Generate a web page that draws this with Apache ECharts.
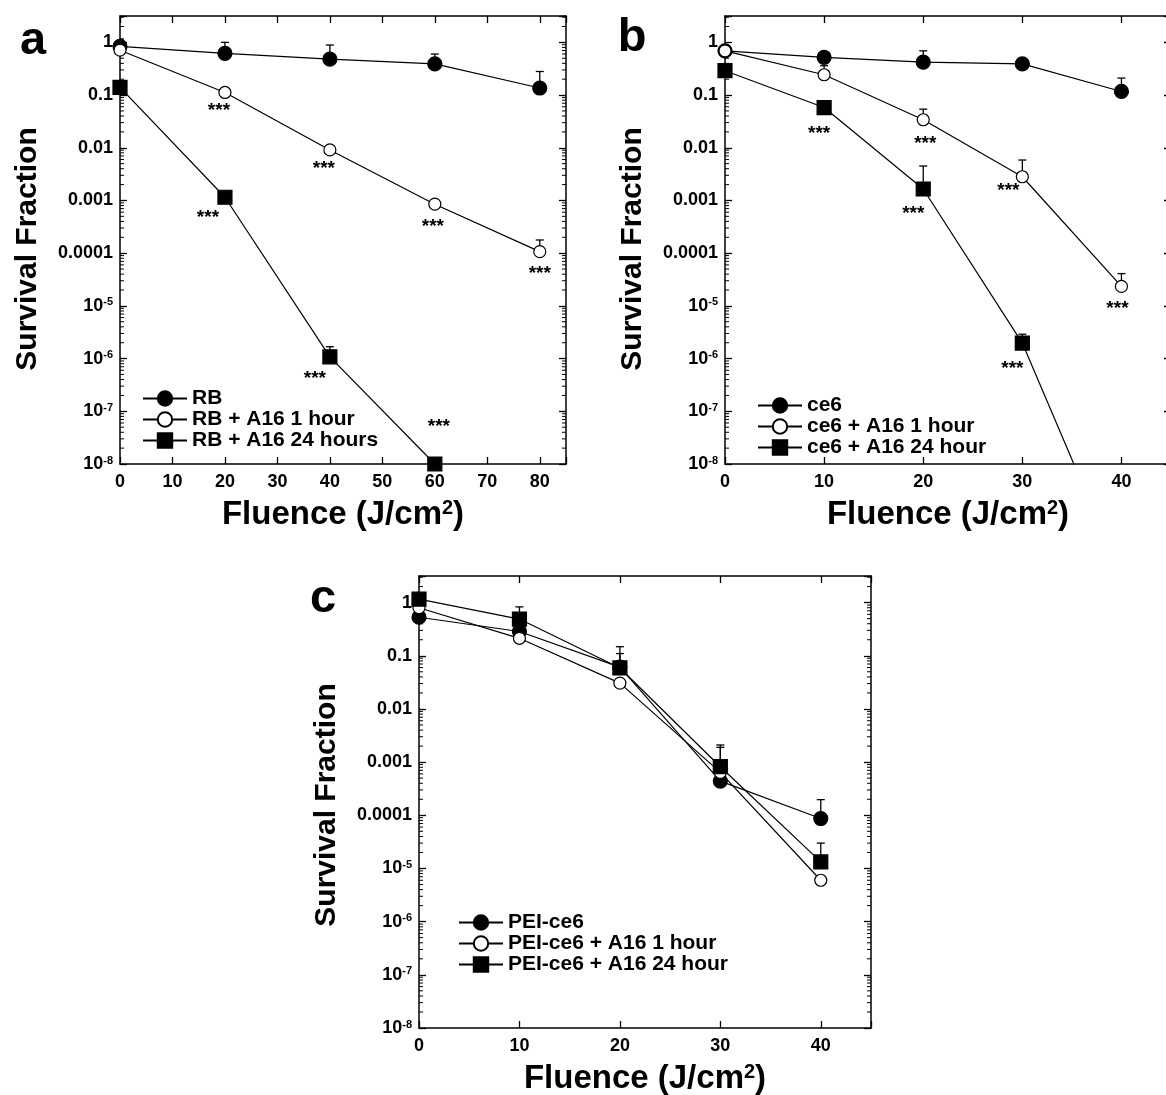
<!DOCTYPE html>
<html>
<head>
<meta charset="utf-8">
<script src="https://cdn.jsdelivr.net/npm/echarts@6/dist/echarts.min.js"></script>
<style>
html,body{margin:0;padding:0;background:#ffffff;}
#c{width:1166px;height:1095px;}
</style>
</head>
<body>
<div id="c"></div>
<script>
// ---------------- DATA ----------------
// Panel a (RB)
var fluenceA = [0, 20, 40, 60, 80];
var namesA = ['RB', 'RB + A16 1 hour', 'RB + A16 24 hours'];
var rbMean = [0.84, 0.62, 0.48, 0.39, 0.136];
var rbUpper = [1.16, 1.0, 0.89, 0.6, 0.28];
var rb1hMean = [0.71, 0.112, 0.0091, 0.00085, 0.000107];
var rb1hUpper = [null, 0.13, null, null, 0.000178];
var rb24hMean = [0.14, 0.00115, 1.08e-6, 1e-8, null];
var rb24hUpper = [null, null, 1.68e-6, null, null];
var rbSig = ['', '', '', '', ''];
var rb1hSig = ['', '***', '***', '***', '***'];
var rb24hSig = ['', '***', '***', '***', ''];

// Panel b (ce6)
var fluenceB = [0, 10, 20, 30, 40];
var namesB = ['ce6', 'ce6 + A16 1 hour', 'ce6 + A16 24 hour'];
var ce6Mean = [0.69, 0.52, 0.42, 0.39, 0.117];
var ce6Upper = [null, null, 0.69, null, 0.21];
var ce61hMean = [0.69, 0.243, 0.034, 0.00282, 2.34e-5];
var ce61hUpper = [null, 0.36, 0.054, 0.00585, 4.1e-5];
var ce624hMean = [0.29, 0.058, 0.00165, 1.97e-6, 7.6e-11];
var ce624hUpper = [null, null, 0.0045, 2.9e-6, null];
var ce6Sig = ['', '', '', '', ''];
var ce61hSig = ['', '', '***', '***', '***'];
var ce624hSig = ['', '***', '***', '***', ''];

// Panel c (PEI-ce6)
var fluenceC = [0, 10, 20, 30, 40];
var namesC = ['PEI-ce6', 'PEI-ce6 + A16 1 hour', 'PEI-ce6 + A16 24 hour'];
var peiMean = [0.53, 0.286, 0.061, 0.00044, 8.7e-5];
var peiUpper = [null, null, 0.11, null, 0.000197];
var pei1hMean = [0.8, 0.213, 0.0306, 0.00064, 6.0e-6];
var pei1hUpper = [null, null, null, 0.0019, null];
var pei24hMean = [1.16, 0.49, 0.059, 0.00082, 1.33e-5];
var pei24hUpper = [null, 0.83, 0.148, 0.0021, 3.0e-5];
var peiSig = ['', '', '', '', ''];

// Tick labels (index = -log10(value))
var yTickLabels = ['1', '0.1', '0.01', '0.001', '0.0001', '10{sup|-5}', '10{sup|-6}', '10{sup|-7}', '10{sup|-8}'];
var yAxisTitle = 'Survival Fraction';
var xAxisTitle = 'Fluence (J/cm{sup|2})';
var panelLetters = ['a', 'b', 'c'];
var xMaxes = [85, 45, 45];

// ---------------- LAYOUT / STYLE ----------------
var FF = '"Liberation Sans", Arial, Helvetica, sans-serif';
var YMIN = 1e-8, YMAX = Math.pow(10, 0.5);

var panels = [
  {x: fluenceA, names: namesA, mean: [rbMean, rb1hMean, rb24hMean], upper: [rbUpper, rb1hUpper, rb24hUpper], sig: [rbSig, rb1hSig, rb24hSig]},
  {x: fluenceB, names: namesB, mean: [ce6Mean, ce61hMean, ce624hMean], upper: [ce6Upper, ce61hUpper, ce624hUpper], sig: [ce6Sig, ce61hSig, ce624hSig]},
  {x: fluenceC, names: namesC, mean: [peiMean, pei1hMean, pei24hMean], upper: [peiUpper, pei1hUpper, pei24hUpper], sig: [peiSig, peiSig, peiSig]}
];

var layouts = [
  {grid: {left: 120, top: 16, width: 446, height: 448}, legend: {left: 142, top: 388}, letter: {x: 33, y: 41}, yNamePad: 18,
   starOff: [[], [null, [-6, 18], [-6, 19], [-2, 23], [0, 22]], [null, [-17, 20], [-15, 22], [4, -37], null]]},
  {grid: {left: 725, top: 16, width: 446, height: 448}, legend: {left: 757, top: 395}, letter: {x: 632, y: 38}, yNamePad: 18,
   starOff: [[], [null, null, [2, 24], [-14, 14], [-4, 22]], [null, [-5, 26], [-10, 25], [-10, 26], null]]},
  {grid: {left: 419, top: 576, width: 452, height: 452}, legend: {left: 458, top: 912}, letter: {x: 323, y: 599}, yNamePad: 6,
   starOff: [[], [], []]}
];

var markers = [
  {symbol: 'circle', size: 14, fill: '#000'},
  {symbol: 'circle', size: 12, fill: '#fff'},
  {symbol: 'rect', size: 14, fill: '#000'}
];

function yLabel(v) {
  var l = Math.log(v) / Math.LN10, e = Math.round(l);
  if (Math.abs(l - e) > 1e-6 || e > 0 || -e >= yTickLabels.length) return '';
  return yTickLabels[-e];
}

function errRender(params, api) {
  var x = api.value(0), y = api.value(1), hi = api.value(2);
  var p0 = api.coord([x, y]);
  var p1 = api.coord([x, hi]);
  var st = {stroke: '#000', lineWidth: 1.3};
  return {type: 'group', children: [
    {type: 'line', shape: {x1: p0[0], y1: p0[1], x2: p1[0], y2: p1[1]}, style: st},
    {type: 'line', shape: {x1: p1[0] - 4, y1: p1[1], x2: p1[0] + 4, y2: p1[1]}, style: st}
  ]};
}

var grids = [], xAxes = [], yAxes = [], series = [], legends = [];

panels.forEach(function (P, i) {
  var L = layouts[i];
  grids.push({left: L.grid.left, top: L.grid.top, width: L.grid.width, height: L.grid.height, containLabel: false, outerBoundsMode: 'none'});
  ['bottom', 'top'].forEach(function (pos) {
    xAxes.push({
      type: 'value', gridIndex: i, position: pos, min: 0, max: xMaxes[i], interval: 10,
      axisLine: {show: true, onZero: false, lineStyle: {color: '#000', width: 1.5}},
      axisTick: {show: true, inside: true, length: 7, lineStyle: {color: '#000', width: 1.3}},
      splitLine: {show: false},
      axisLabel: pos === 'bottom' ? {
        show: true, margin: 9, color: '#000', fontSize: 18, fontWeight: 'bold', fontFamily: FF,
        formatter: function (v) { return v % 10 === 0 ? String(v) : ''; }
      } : {show: false},
      name: pos === 'bottom' ? xAxisTitle : '',
      nameLocation: 'middle', nameGap: 34,
      nameTextStyle: {color: '#000', fontSize: 33, fontWeight: 'bold', fontFamily: FF,
        rich: {sup: {fontSize: 20, fontWeight: 'bold', fontFamily: FF, color: '#000', verticalAlign: 'top', padding: [0, 0, 13, 0]}}}
    });
  });
  ['left', 'right'].forEach(function (pos) {
    yAxes.push({
      type: 'log', logBase: 10, gridIndex: i, position: pos, min: YMIN, max: YMAX, interval: 1,
      axisLine: {show: true, onZero: false, lineStyle: {color: '#000', width: 1.5}},
      axisTick: {show: true, inside: true, length: 7, lineStyle: {color: '#000', width: 1.3}},
      minorTick: {show: false},
      splitLine: {show: false},
      axisLabel: pos === 'left' ? {
        show: true, margin: 7, color: '#000', fontSize: 18, fontWeight: 'bold', fontFamily: FF,
        formatter: yLabel,
        rich: {sup: {fontSize: 11, fontWeight: 'bold', fontFamily: FF, color: '#000', verticalAlign: 'top', padding: [0, 0, 7, 0]}}
      } : {show: false},
      name: pos === 'left' ? yAxisTitle : '',
      nameLocation: 'middle', nameGap: 77,
      nameTextStyle: {color: '#000', fontSize: 30, fontWeight: 'bold', fontFamily: FF, padding: [0, L.yNamePad, 0, 0]}
    });
  });

  P.mean.forEach(function (vals, s) {
    var M = markers[s];
    var data = [];
    P.x.forEach(function (xv, k) {
      if (vals[k] == null) return;
      var item = {value: [xv, vals[k]]};
      var sig = P.sig[s][k];
      var off = (L.starOff[s] || [])[k];
      if (sig && off) {
        item.label = {show: true, formatter: sig, position: 'inside', offset: off,
          color: '#000', fontSize: 19, fontWeight: 'bold', fontFamily: FF};
      }
      data.push(item);
    });
    series.push({
      type: 'line', name: P.names[s], xAxisIndex: 2 * i, yAxisIndex: 2 * i,
      data: data, symbol: M.symbol, symbolSize: M.size, showSymbol: true, clip: true,
      itemStyle: {color: M.fill, borderColor: '#000', borderWidth: 1.2},
      lineStyle: {color: '#000', width: 1.2},
      label: {show: false},
      emphasis: {disabled: true},
      z: 3 + s
    });
    var err = [];
    P.x.forEach(function (xv, k) {
      if (P.upper[s][k] != null && vals[k] != null) err.push([xv, vals[k], P.upper[s][k]]);
    });
    if (err.length) {
      series.push({
        type: 'custom', xAxisIndex: 2 * i, yAxisIndex: 2 * i, renderItem: errRender,
        data: err, encode: {x: 0, y: [1, 2]}, silent: true, z: 2, clip: true
      });
    }
  });

  legends.push({
    data: P.names, orient: 'vertical', left: L.legend.left, top: L.legend.top,
    itemWidth: 44, itemHeight: 18, itemGap: 0, padding: 0, selectedMode: false,
    textStyle: {color: '#000', fontSize: 21, fontWeight: 'bold', fontFamily: FF, lineHeight: 21}
  });
});

var chart = echarts.init(document.getElementById('c'), null, {renderer: 'canvas'});
chart.setOption({
  animation: false,
  backgroundColor: '#ffffff',
  grid: grids, xAxis: xAxes, yAxis: yAxes, legend: legends, series: series
});

// Panel letters and logarithmic minor ticks (positions from the library's scales)
var elements = [];
layouts.forEach(function (L, i) {
  elements.push({type: 'text', x: L.letter.x, y: L.letter.y, z: 10,
    style: {text: panelLetters[i], fill: '#000', font: 'bold 47px ' + FF,
      fontSize: 47, fontWeight: 'bold', fontFamily: FF,
      align: 'center', verticalAlign: 'middle', textAlign: 'center', textVerticalAlign: 'middle'}});
  var xl = chart.convertToPixel({xAxisIndex: 2 * i}, 0);
  var xr = chart.convertToPixel({xAxisIndex: 2 * i}, xMaxes[i]);
  for (var d = -8; d <= 0; d++) {
    for (var m = 2; m <= 9; m++) {
      var v = m * Math.pow(10, d);
      if (v > YMAX) continue;
      var py = chart.convertToPixel({yAxisIndex: 2 * i}, v);
      elements.push({type: 'line', silent: true, shape: {x1: xl, y1: py, x2: xl + 4, y2: py}, style: {stroke: '#000', lineWidth: 1}});
      elements.push({type: 'line', silent: true, shape: {x1: xr - 4, y1: py, x2: xr, y2: py}, style: {stroke: '#000', lineWidth: 1}});
    }
  }
});
chart.setOption({graphic: {elements: elements}});
</script>
</body>
</html>
